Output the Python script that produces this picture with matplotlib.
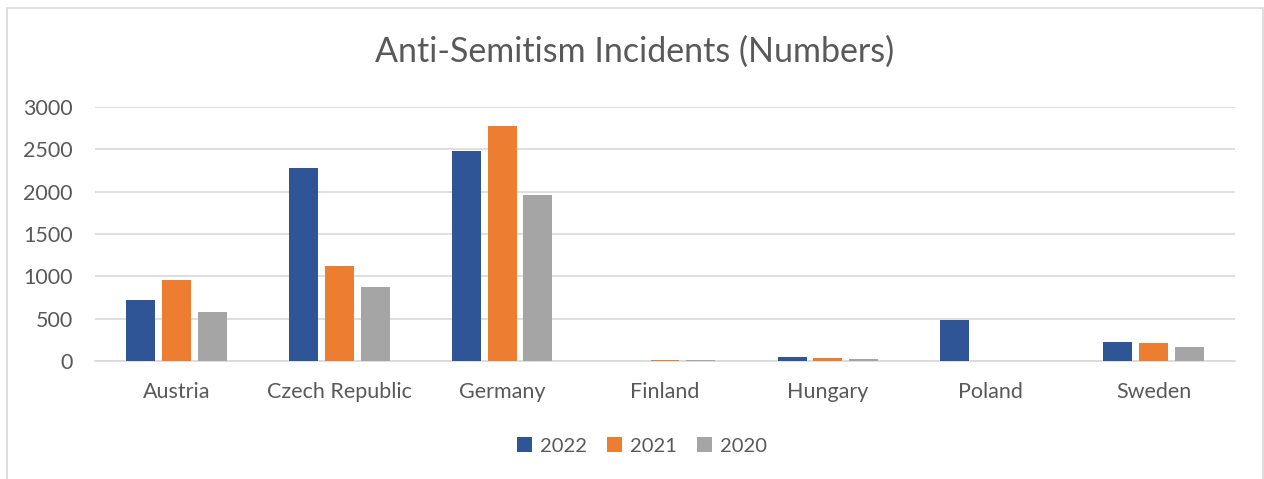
import numpy as np
import matplotlib.pyplot as plt
from matplotlib.patches import Rectangle

countries = ["Austria", "Czech Republic", "Germany", "Finland", "Hungary", "Poland", "Sweden"]
years = ["2022", "2021", "2020"]
v2022 = [715, 2280, 2480, 0, 44, 490, 220]
v2021 = [960, 1125, 2780, 8, 30, 0, 218]
v2020 = [580, 870, 1955, 10, 25, 0, 168]
colors = ["#2F5597", "#ED7D31", "#A5A5A5"]

plt.rcParams["font.family"] = ["Lato", "DejaVu Sans"]
text_col = "#595959"

fig = plt.figure(figsize=(12.64, 4.79), dpi=100)
ax = fig.add_axes([95 / 1264, 1 - 361 / 479, 1140 / 1264, 254 / 479])

x = np.arange(len(countries))
step = 0.22
width = 0.178
for i, (vals, lab) in enumerate(zip([v2022, v2021, v2020], years)):
    ax.bar(x + (i - 1) * step, vals, width, color=colors[i], label=lab, zorder=3)

ax.set_xlim(-0.5, len(countries) - 0.5)
ax.set_ylim(0, 3000)
ax.set_yticks(range(0, 3001, 500))
ax.set_xticks(x)
ax.set_xticklabels(countries)
ax.tick_params(axis="both", length=0, labelsize=15.5, colors=text_col)
ax.tick_params(axis="y", pad=16)
ax.tick_params(axis="x", pad=15)
ax.grid(axis="y", color="#D9D9D9", linewidth=1.2, zorder=0)
for s in ["top", "right", "left"]:
    ax.spines[s].set_visible(False)
ax.spines["bottom"].set_color("#D9D9D9")
ax.spines["bottom"].set_linewidth(1.2)

fig.text(635 / 1264, 1 - 52 / 479, "Anti-Semitism Incidents (Numbers)",
         ha="center", va="center", fontsize=24.5, color=text_col)

leg = fig.legend(loc="center", bbox_to_anchor=(642 / 1264, 1 - 446 / 479), ncol=3,
                 frameon=False, fontsize=14.5, handlelength=0.75, handleheight=0.75,
                 handletextpad=0.4, columnspacing=1.0)
for t in leg.get_texts():
    t.set_color(text_col)

fig.patches.append(Rectangle((7 / 1264, -0.01), 1256 / 1264, 1 - 8 / 479 + 0.01,
                             transform=fig.transFigure, fill=False,
                             edgecolor="#D9D9D9", linewidth=1.2))

fig.savefig("out.png", dpi=100)
